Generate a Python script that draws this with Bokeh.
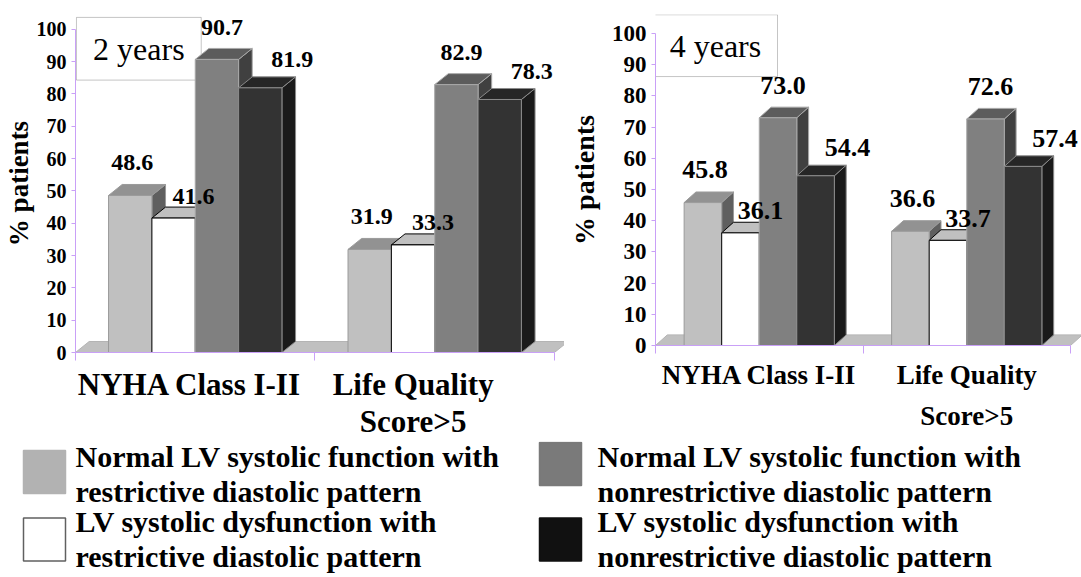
from bokeh.plotting import figure
from bokeh.models import Range1d, FixedTicker, BoxAnnotation, Label
from bokeh.layouts import row, column
from bokeh.embed import file_html
from bokeh.resources import INLINE
from bokeh.core.properties import value

# ---------------- data ----------------
categories = ["NYHA Class I-II", "Life Quality\nScore>5"]
series_names = [
    "Normal LV systolic function with\nrestrictive diastolic pattern",
    "LV systolic dysfunction with\nrestrictive diastolic pattern",
    "Normal LV systolic function with\nnonrestrictive diastolic pattern",
    "LV systolic dysfunction with\nnonrestrictive diastolic pattern",
]
# values per series: [NYHA Class I-II, Life Quality Score>5]
y2_normal_restrictive = [48.6, 31.9]
y2_dysf_restrictive = [41.6, 33.3]
y2_normal_nonrestrictive = [90.7, 82.9]
y2_dysf_nonrestrictive = [81.9, 78.3]

y4_normal_restrictive = [45.8, 36.6]
y4_dysf_restrictive = [36.1, 33.7]
y4_normal_nonrestrictive = [73.0, 72.6]
y4_dysf_nonrestrictive = [54.4, 57.4]

y_ticks = [0, 10, 20, 30, 40, 50, 60, 70, 80, 90, 100]
panel_titles = ["2 years", "4 years"]

# ---------------- styles ----------------
SERIF = "Liberation Serif"
AXIS = "#c9a0f7"
front_colors = ["#c0c0c0", "#ffffff", "#808080", "#333333"]
top_colors = ["#929292", "#c0c0c0", "#5c5c5c", "#262626"]
side_colors = ["#5f5f5f", "#a0a0a0", "#404040", "#1a1a1a"]
edge_colors = ["#9a9a9a", "#000000", "#a8a8a8", "#8a8a8a"]
legend_fill = ["#b2b2b2", "#ffffff", "#7a7a7a", "#111111"]
legend_line = ["#b2b2b2", "#606060", "#7a7a7a", "#111111"]
label_dx = [2, 20, 5, 32]
label_dy = [-33, -22, -32, -28]
BAR_W = 0.181
DX = 0.057
DY = 3.4
NCAT = len(categories)


def make_chart(series, title, cfg):
    p = figure(width=cfg["w"], height=cfg["h"],
               x_range=Range1d(0, cfg["x_end"]),
               y_range=Range1d(0, cfg["y_end"]),
               output_backend="svg", toolbar_location=None,
               min_border_left=cfg["bl"], min_border_right=0,
               min_border_top=14, min_border_bottom=cfg["bb"])
    p.grid.visible = False
    p.outline_line_color = None
    p.background_fill_color = "white"
    p.border_fill_color = "white"

    # title box
    p.add_layout(BoxAnnotation(left=cfg["box"][0], right=cfg["box"][1],
                               bottom=cfg["box"][2], top=cfg["box"][3],
                               fill_color="white", fill_alpha=1.0,
                               line_color="#404040", line_width=1, level="underlay"))
    p.add_layout(Label(x=(cfg["box"][0] + cfg["box"][1]) / 2,
                       y=(cfg["box"][2] + cfg["box"][3]) / 2,
                       text=title, text_align="center", text_baseline="middle",
                       text_font=SERIF, text_font_size="32px", text_color="black"))

    # floor
    p.patch([0, DX, NCAT + DX, NCAT], [0, DY, DY, 0],
            fill_color="#c0c0c0", line_color="#b4b4b4", line_width=1)

    group_start = 0.5 - len(series) * BAR_W / 2
    lx, ly, lt, lox, loy = [], [], [], [], []
    for si, vals in enumerate(series):
        lefts = [c + group_start + si * BAR_W for c in range(NCAT)]
        rights = [l + BAR_W for l in lefts]
        p.patches([[r, r + DX, r + DX, r] for r in rights],
                  [[0, DY, v + DY, v] for v in vals],
                  fill_color=side_colors[si], line_color=edge_colors[si], line_width=1)
        p.patches([[l, l + DX, r + DX, r] for l, r in zip(lefts, rights)],
                  [[v, v + DY, v + DY, v] for v in vals],
                  fill_color=top_colors[si], line_color=edge_colors[si], line_width=1)
        p.quad(left=lefts, right=rights, bottom=0, top=vals,
               fill_color=front_colors[si], line_color=edge_colors[si], line_width=1)
        for l, r, v in zip(lefts, rights, vals):
            lx.append((l + r) / 2)
            ly.append(v)
            lt.append(f"{v:.1f}")
            lox.append(label_dx[si])
            loy.append(label_dy[si])

    p.text(x=lx, y=ly, text=lt, x_offset=lox, y_offset=loy,
           text_font=value(SERIF), text_font_style="bold",
           text_font_size=cfg["lab_fs"], text_color="black",
           text_align="center", text_baseline="middle")

    # y axis
    ya = p.yaxis[0]
    ya.ticker = FixedTicker(ticks=y_ticks, minor_ticks=[])
    ya.bounds = (0, 100)
    ya.axis_line_color = AXIS
    ya.major_tick_line_color = AXIS
    ya.major_tick_out = 4
    ya.major_tick_in = 0
    ya.minor_tick_line_color = None
    ya.major_label_text_font = SERIF
    ya.major_label_text_font_style = "bold"
    ya.major_label_text_font_size = cfg["tick_fs"]
    ya.major_label_text_color = "black"
    ya.major_label_standoff = 5
    ya.axis_label = "% patients"
    ya.axis_label_text_font = SERIF
    ya.axis_label_text_font_style = "bold"
    ya.axis_label_text_font_size = cfg["ylab_fs"]
    ya.axis_label_text_color = "black"
    ya.axis_label_standoff = cfg["ylab_standoff"]

    # x axis: ticks at category boundaries, labels near centres
    xa = p.xaxis[0]
    label_pos = [c + 0.5 + s for c, s in zip(range(NCAT), cfg["cat_shift"])]
    xa.ticker = FixedTicker(ticks=label_pos, minor_ticks=list(range(NCAT + 1)))
    xa.major_label_overrides = {c: name for c, name in zip(label_pos, categories)}
    xa.bounds = (0, NCAT)
    xa.axis_line_color = AXIS
    xa.major_tick_line_color = None
    xa.major_tick_out = 0
    xa.major_tick_in = 0
    xa.minor_tick_line_color = AXIS
    xa.minor_tick_out = 8
    xa.minor_tick_in = 0
    xa.major_label_text_font = SERIF
    xa.major_label_text_font_style = "bold"
    xa.major_label_text_font_size = cfg["cat_fs"]
    xa.major_label_text_color = "black"
    xa.major_label_text_line_height = cfg["cat_lh"]
    xa.major_label_standoff = cfg["cat_standoff"]
    return p


left_cfg = dict(w=564, h=441, x_end=2.042, y_end=104.6, bl=75, bb=87,
                box=(0.004, 0.525, 84.3, 103.7), lab_fs="24px", tick_fs="20px",
                ylab_fs="27px", ylab_standoff=0, cat_fs="31px", cat_standoff=6,
                cat_lh=1.06, cat_shift=[-0.023, -0.09])
right_cfg = dict(w=517, h=441, x_end=2.053, y_end=106.09, bl=91, bb=96,
                 box=(-0.01, 0.588, 86.2, 106.0), lab_fs="26px", tick_fs="23px",
                 ylab_fs="28px", ylab_standoff=9, cat_fs="27px", cat_standoff=6,
                 cat_lh=1.37, cat_shift=[0.0, 0.0])

p1 = make_chart([y2_normal_restrictive, y2_dysf_restrictive,
                 y2_normal_nonrestrictive, y2_dysf_nonrestrictive],
                panel_titles[0], left_cfg)
p2 = make_chart([y4_normal_restrictive, y4_dysf_restrictive,
                 y4_normal_nonrestrictive, y4_dysf_nonrestrictive],
                panel_titles[1], right_cfg)

# ---------------- legend ----------------
LEG_H = 136
leg = figure(width=1081, height=LEG_H, x_range=Range1d(0, 1081), y_range=Range1d(LEG_H, 0),
             output_backend="svg", toolbar_location=None,
             x_axis_location=None, y_axis_location=None, min_border=0)
leg.grid.visible = False
leg.outline_line_color = None

col_square_x = [44, 560]
col_text_x = [75, 597]
col_square_y = [[30.5, 98], [22.5, 98]]
row_text_y = [32.5, 97.5]
sq_x, sq_y, t_x, t_y = [], [], [], []
for i in range(len(series_names)):
    col, rw = i // 2, i % 2
    sq_x.append(col_square_x[col])
    sq_y.append(col_square_y[col][rw])
    t_x.append(col_text_x[col])
    t_y.append(row_text_y[rw])
leg.rect(x=sq_x, y=sq_y, width=42, height=43, fill_color=legend_fill,
         line_color=legend_line, line_width=1.5)
leg.text(x=t_x, y=t_y, text=series_names, text_font=value(SERIF),
         text_font_style="bold", text_font_size="30px", text_color="black",
         text_align="left", text_baseline="middle", text_line_height=1.07)

layout = column(row(column(p1), column(p2)), leg)
open("out.html", "w").write(file_html(layout, INLINE))
